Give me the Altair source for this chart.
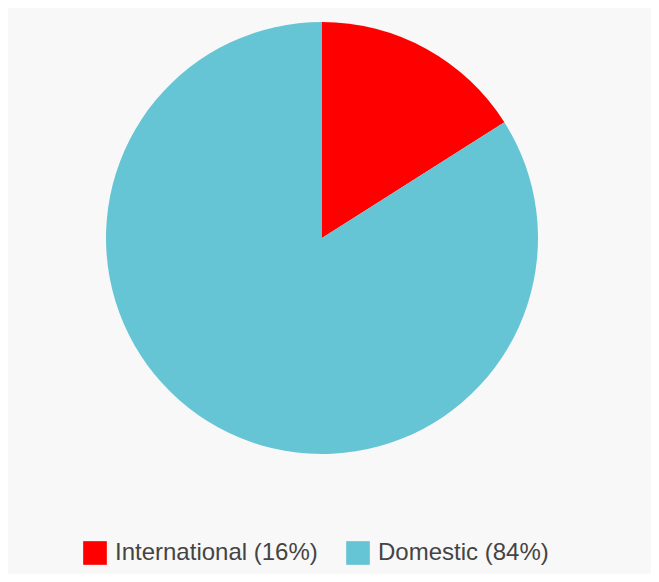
import altair as alt
import pandas as pd

categories = ["International", "Domestic"]
values = [16, 84]
colors = ["#ff0000", "#65c5d5"]

df = pd.DataFrame({
    "category": categories,
    "value": values,
    "order": list(range(len(categories))),
})

label_expr = "datum.label == 'International' ? 'International (16%)' : 'Domestic (84%)'"

chart = alt.Chart(df).mark_arc(radius=216, stroke=None).encode(
    theta=alt.Theta("value:Q", stack=True),
    order=alt.Order("order:Q"),
    x=alt.value(314),
    y=alt.value(230),
    color=alt.Color(
        "category:N",
        sort=categories,
        scale=alt.Scale(domain=categories, range=colors),
        legend=alt.Legend(
            title=None,
            orient="none",
            legendX=75,
            legendY=533,
            direction="horizontal",
            symbolType="square",
            symbolSize=560,
            symbolStrokeWidth=0,
            symbolOpacity=1,
            labelFontSize=24,
            labelFont="Liberation Sans",
            labelColor="#444444",
            labelOffset=8,
            columnPadding=28,
            labelExpr=label_expr,
            labelLimit=400,
            padding=0,
        ),
    ),
).properties(
    width=643,
    height=566,
    background="#f8f8f8",
    padding=0,
    autosize=alt.AutoSizeParams(type="none"),
).configure_view(stroke=None)

chart.save("out.html", embed_options={"renderer": "svg", "actions": False})
